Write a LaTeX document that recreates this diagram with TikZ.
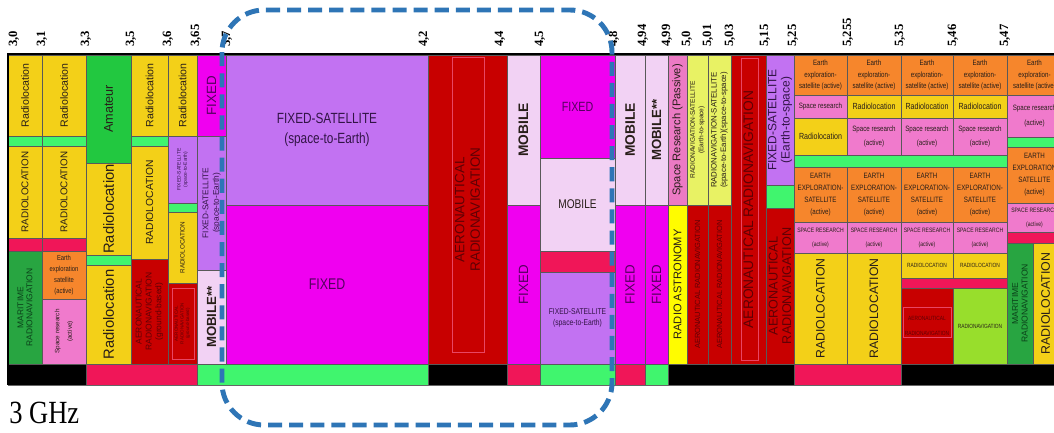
\documentclass[tikz,border=0pt]{standalone}
\usepackage{fontspec}
\setmainfont{Liberation Serif}
\newfontfamily\hfont[FakeStretch=0.8]{Liberation Sans}
\newfontfamily\vfont{Liberation Sans}
\newfontfamily\capfont[FakeStretch=0.82]{Liberation Serif}
\usetikzlibrary{calc}

\definecolor{cRadloc}{RGB}{243,208,24}
\definecolor{cAmateur}{RGB}{34,200,64}
\definecolor{cStripe}{RGB}{64,245,110}
\definecolor{cRedbar}{RGB}{240,22,88}
\definecolor{cAero}{RGB}{200,0,0}
\definecolor{cMaritime}{RGB}{40,165,65}
\definecolor{cFixed}{RGB}{240,0,240}
\definecolor{cFsat}{RGB}{194,114,242}
\definecolor{cMobile}{RGB}{242,210,244}
\definecolor{cEess}{RGB}{246,134,44}
\definecolor{cSres}{RGB}{240,122,204}
\definecolor{cAstro}{RGB}{255,252,0}
\definecolor{cRnss}{RGB}{232,242,100}
\definecolor{cRadnav}{RGB}{152,222,44}
\definecolor{cPassive}{RGB}{236,122,196}
\definecolor{cBlue}{RGB}{46,117,182}
\definecolor{cInner}{RGB}{232,70,100}
\definecolor{cText}{RGB}{40,30,25}
\definecolor{cFixedText}{RGB}{85,0,95}
\definecolor{cAeroText}{RGB}{95,0,5}
\definecolor{cMarText}{RGB}{10,65,25}
\definecolor{cFsatText}{RGB}{50,20,70}

\tikzset{
  cellbox/.style={draw=black!65,line width=0.4pt},
  celltext/.style={align=center,inner sep=0pt,text=cText},
  sz/.style 2 args={font=\hfont\fontsize{#1}{#2}\selectfont},
  vsz/.style 2 args={rotate=90,font=\vfont\fontsize{#1}{#2}\selectfont},
  innerbox/.style={draw=cInner,line width=0.5pt},
  chartframe/.style={line width=1.5pt},
  tick/.style={rotate=90,anchor=west,inner sep=0pt,font=\bfseries\fontsize{9}{9}\selectfont},
  zoomframe/.style={draw=cBlue,line width=3.5pt,dash pattern=on 10pt off 5pt,rounded corners=30pt},
  % allocation colours and their text colours
  radloc/.style={fill=cRadloc},     radloc text/.style={},
  amateur/.style={fill=cAmateur},   amateur text/.style={},
  stripe/.style={fill=cStripe},
  redbar/.style={fill=cRedbar},
  nonalloc/.style={fill=black},
  aero/.style={fill=cAero},         aero text/.style={text=cAeroText},
  maritime/.style={fill=cMaritime}, maritime text/.style={text=cMarText},
  fixed/.style={fill=cFixed},       fixed text/.style={text=cFixedText},
  fsat/.style={fill=cFsat},         fsat text/.style={text=cFsatText},
  mobile/.style={fill=cMobile},     mobile text/.style={},
  eess/.style={fill=cEess},         eess text/.style={},
  sres/.style={fill=cSres},         sres text/.style={},
  passive/.style={fill=cPassive},   passive text/.style={},
  radastro/.style={fill=cAstro},    radastro text/.style={},
  rnss/.style={fill=cRnss},         rnss text/.style={},
  radnav/.style={fill=cRadnav},     radnav text/.style={}
}

\newcount\allocno
% \alloc[text options]{x1}{y1}{x2}{y2}{service}{text}
\newcommand\alloc[7][]{%
  \global\advance\allocno by 1
  \draw[cellbox,#6] (#2,#3) rectangle (#4,#5);
  \node[celltext,#6 text,#1] (alloc\the\allocno) at ($(#2,#3)!0.5!(#4,#5)$) {#7};}
% \allocbar{x1}{y1}{x2}{y2}{service}
\newcommand\allocbar[5]{\draw[cellbox,#5] (#1,#2) rectangle (#3,#4);}

\begin{document}
\begin{tikzpicture}[x=0.025cm,y=-0.025cm]
\useasboundingbox (0,0) rectangle (1054,433);

% 3,0 - 3,1
\alloc[vsz={7.5}{9}]{8}{55}{42}{136}{radloc}{Radiolocation}
\allocbar{8}{136}{42}{146}{stripe}
\alloc[vsz={7}{8}]{8}{146}{42}{238}{radloc}{RADIOLOCATION}
\allocbar{8}{238}{42}{251}{redbar}
\alloc[vsz={6}{6.5}]{8}{251}{42}{364}{maritime}{MARITIME\\RADIONAVIGATION}
\allocbar{8}{364}{86}{385}{nonalloc}
% 3,1 - 3,3
\alloc[vsz={7.5}{9}]{42}{55}{86}{136}{radloc}{Radiolocation}
\allocbar{42}{136}{86}{146}{stripe}
\alloc[vsz={7}{8}]{42}{146}{86}{238}{radloc}{RADIOLOCATION}
\allocbar{42}{238}{86}{251}{redbar}
\alloc[sz={5.2}{8}]{42}{251}{86}{299}{eess}{Earth\\exploration\\satellite\\(active)}
\alloc[vsz={4.5}{9}]{42}{299}{86}{364}{sres}{Space research\\(active)}
% 3,3 - 3,5
\alloc[vsz={9}{10}]{86}{55}{131}{163}{amateur}{Amateur}
\alloc[vsz={10.5}{11}]{86}{163}{131}{255}{radloc}{Radiolocation}
\allocbar{86}{255}{131}{265}{stripe}
\alloc[vsz={10.5}{11}]{86}{265}{131}{364}{radloc}{Radiolocation}
\allocbar{86}{364}{197}{385}{redbar}
% 3,5 - 3,6
\alloc[vsz={7.5}{9}]{131}{55}{168}{136}{radloc}{Radiolocation}
\allocbar{131}{136}{168}{146}{stripe}
\alloc[vsz={7.3}{8}]{131}{146}{168}{259}{radloc}{RADIOLOCATION}
\alloc[vsz={6}{7}]{131}{259}{168}{364}{aero}{AERONAUTICAL\\RADIONAVIGATION\\(ground-based)}
% 3,6 - 3,65
\alloc[vsz={7.5}{9}]{168}{55}{197}{136}{radloc}{Radiolocation}
\alloc[vsz={3.5}{4.5}]{168}{136}{197}{203}{fsat}{FIXED-SATELLITE\\(space-to-Earth)}
\allocbar{168}{203}{197}{212}{stripe}
\alloc[vsz={4.5}{5}]{168}{212}{197}{283}{radloc}{RADIOLOCATION}
\alloc[vsz={3.2}{4}]{168}{283}{197}{364}{aero}{AERONAUTICAL\\RADIONAVIGATION\\(ground-based)}
\draw[innerbox] (172,288) rectangle (194,359);
% 3,65 - 3,7
\alloc[vsz={9.5}{10}]{197}{55}{226}{136}{fixed}{FIXED}
\alloc[vsz={5.9}{7.5}]{197}{136}{226}{270}{fsat}{FIXED-SATELLITE\\(space-to-Earth)}
\alloc[vsz={9.4}{10}]{197}{270}{226}{364}{mobile}{\textbf{MOBILE**}}
\allocbar{197}{364}{428}{385}{stripe}
% 3,7 - 4,2
\alloc[sz={10.5}{14}]{226}{55}{428}{205}{fsat}{FIXED-SATELLITE\\(space-to-Earth)}
\alloc[sz={11}{12}]{226}{205}{428}{364}{fixed}{FIXED}
% 4,2 - 4,4
\alloc[vsz={9.6}{11}]{428}{55}{507}{364}{aero}{AERONAUTICAL\\RADIONAVIGATION}
\draw[innerbox] (452,57) rectangle (484,352);
\allocbar{428}{364}{507}{385}{nonalloc}
% 4,4 - 4,5
\alloc[vsz={9.8}{10}]{507}{55}{540}{205}{mobile}{\textbf{MOBILE}}
\alloc[vsz={9.5}{10}]{507}{205}{540}{364}{fixed}{FIXED}
\allocbar{507}{364}{540}{385}{redbar}
% 4,5 - 4,8
\alloc[sz={9.5}{10}]{540}{55}{615}{158}{fixed}{FIXED}
\alloc[sz={9}{10}]{540}{158}{615}{251}{mobile}{MOBILE}
\allocbar{540}{251}{615}{272}{redbar}
\alloc[sz={6}{8}]{540}{272}{615}{364}{fsat}{FIXED-SATELLITE\\(space-to-Earth)}
\allocbar{540}{364}{615}{385}{stripe}
% 4,8 - 4,94
\alloc[vsz={9.8}{10}]{615}{55}{645}{205}{mobile}{\textbf{MOBILE}}
\alloc[vsz={9.5}{10}]{615}{205}{645}{364}{fixed}{FIXED}
\allocbar{615}{364}{645}{385}{redbar}
% 4,94 - 4,99
\alloc[vsz={9.4}{10}]{645}{55}{668}{205}{mobile}{\textbf{MOBILE**}}
\alloc[vsz={9.5}{10}]{645}{205}{668}{364}{fixed}{FIXED}
\allocbar{645}{364}{668}{385}{stripe}
% 4,99 - 5,0
\alloc[vsz={7.9}{9}]{668}{55}{687}{205}{passive}{Space Research (Passive)}
\alloc[vsz={7.9}{9}]{668}{205}{687}{364}{radastro}{RADIO ASTRONOMY}
\allocbar{668}{364}{794}{385}{nonalloc}
% 5,0 - 5,01
\alloc[vsz={4.7}{6}]{687}{55}{708}{205}{rnss}{RADIONAVIGATION-SATELLITE\\(Earth-to-space)}
\alloc[vsz={5.3}{6}]{687}{205}{708}{364}{aero}{AERONAUTICAL RADIONAVIGATION}
% 5,01 - 5,03
\alloc[vsz={5.6}{6.8}]{708}{55}{731}{205}{rnss}{RADIONAVIGATION-SATELLITE\\(space-to-Earth)(space-to-space)}
\alloc[vsz={5.3}{6}]{708}{205}{731}{364}{aero}{AERONAUTICAL RADIONAVIGATION}
% 5,03 - 5,15
\alloc[vsz={9.8}{10}]{731}{55}{766}{364}{aero}{AERONAUTICAL RADIONAVIGATION}
\draw[innerbox] (741,58) rectangle (758,360);
% 5,15 - 5,25
\alloc[vsz={8.5}{9.5}]{766}{55}{794}{185}{fsat}{FIXED-SATELLITE\\(Earth-to-space)}
\allocbar{766}{185}{794}{208}{stripe}
\alloc[vsz={9}{9.5}]{766}{208}{794}{364}{aero}{AERONAUTICAL\\RADIONAVIGATION}

% 5,25 - 5,47
\foreach \xa/\xb in {794/847,847/901,901/953,953/1007}{
  \alloc[sz={5.5}{8.5}]{\xa}{55}{\xb}{95}{eess}{Earth\\exploration-\\satellite (active)}
  \alloc[sz={5.5}{8.5}]{\xa}{167}{\xb}{222}{eess}{EARTH\\EXPLORATION-\\SATELLITE\\(active)}
  \alloc[sz={4.5}{10}]{\xa}{222}{\xb}{253}{sres}{SPACE RESEARCH\\(active)}
}
\alloc[sz={5.5}{8}]{794}{95}{847}{118}{sres}{Space research}
\alloc[sz={6.3}{8}]{794}{118}{847}{155}{radloc}{Radiolocation}
\foreach \xa/\xb in {847/901,901/953,953/1007}{
  \alloc[sz={6.3}{8}]{\xa}{95}{\xb}{118}{radloc}{Radiolocation}
  \alloc[sz={5.5}{10.5}]{\xa}{118}{\xb}{155}{sres}{Space research\\(active)}
}
\allocbar{794}{155}{1007}{167}{stripe}
\alloc[vsz={8.7}{9}]{794}{253}{847}{364}{radloc}{RADIOLOCATION}
\alloc[vsz={8.7}{9}]{847}{253}{901}{364}{radloc}{RADIOLOCATION}
\allocbar{794}{364}{901}{385}{redbar}
\alloc[sz={4.3}{5}]{901}{253}{953}{278}{radloc}{RADIOLOCATION}
\alloc[sz={4.3}{5}]{953}{253}{1007}{278}{radloc}{RADIOLOCATION}
\allocbar{901}{278}{1007}{288}{redbar}
\alloc[sz={4.3}{11}]{901}{288}{953}{364}{aero}{AERONAUTICAL\\RADIONAVIGATION}
\draw[innerbox] (903,307) rectangle (951,337);
\alloc[sz={4.3}{5}]{953}{288}{1007}{364}{radnav}{RADIONAVIGATION}
\allocbar{901}{364}{1062}{385}{nonalloc}

% 5,47 -
\alloc[sz={5.5}{8.5}]{1007}{55}{1062}{95}{eess}{Earth\\exploration-\\satellite (active)}
\alloc[sz={5.5}{10}]{1007}{95}{1062}{137}{sres}{Space research\\(active)}
\allocbar{1007}{137}{1062}{147}{stripe}
\alloc[sz={5.5}{8.5}]{1007}{147}{1062}{203}{eess}{EARTH\\EXPLORATION\\SATELLITE\\(active)}
\alloc[sz={4.5}{10}]{1007}{203}{1062}{232}{sres}{SPACE RESEARCH\\(active)}
\allocbar{1007}{232}{1062}{243}{redbar}
\alloc[vsz={6.1}{6.8}]{1007}{243}{1033}{364}{maritime}{MARITIME\\RADIONAVIGATION}
\alloc[vsz={8.8}{9}]{1033}{243}{1058}{364}{radloc}{RADIOLOCATION}

% chart frame
\draw[chartframe] (1062,54) -- (8,54) -- (8,385);
\draw[black!60] (8,385) -- (1062,385);

% frequency ticks
\foreach \x/\a/\b [count=\i] in {14/3/0,42/3/1,86/3/3,131/3/5,168/3/6,196/3/65,227/3/7,424/4/2,500/4/4,540/4/5,614/4/8,643/4/94,667/4/99,687/5/0,708/5/01,730/5/03,765/5/15,793/5/25,848/5/255,900/5/35,953/5/46,1005/5/47}
  \node[tick] (tick\i) at (\x,47) {\a,\b};

\node[anchor=west,inner sep=0pt,font=\capfont\fontsize{23}{25}\selectfont] (ghz) at (9,413) {3 GHz};

% highlighted range
\draw[zoomframe] (222,10) rectangle (612,425);

\end{tikzpicture}
\end{document}
